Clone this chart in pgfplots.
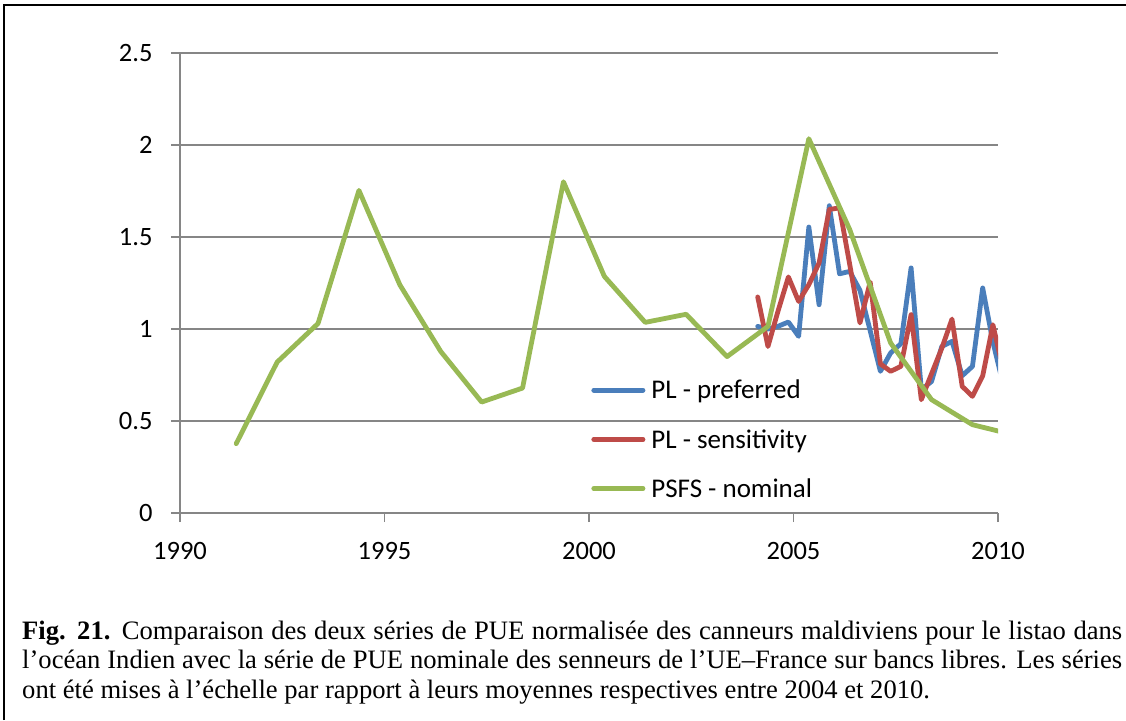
\documentclass[border=0pt]{standalone}
\usepackage{fontspec}
\setmainfont{Carlito}
\newfontfamily\capfont{Liberation Serif}
\usepackage{pgfplots}
\pgfplotsset{compat=1.18}
\definecolor{plblue}{RGB}{74,126,187}
\definecolor{plred}{RGB}{190,75,72}
\definecolor{plgreen}{RGB}{152,185,84}
\definecolor{gridgray}{RGB}{134,134,134}

\pgfplotstableread{
x y
1991.375 0.377
1992.375 0.820
1993.375 1.030
1994.375 1.753
1995.375 1.240
1996.375 0.878
1997.375 0.603
1998.375 0.679
1999.375 1.800
2000.375 1.286
2001.375 1.036
2002.375 1.080
2003.375 0.850
2004.375 1.014
2005.375 2.034
2006.375 1.540
2007.375 0.924
2008.375 0.616
2009.375 0.480
2010.375 0.425
}\green

\pgfplotstableread{
x y
2004.125 1.014
2004.375 1.000
2004.625 1.015
2004.875 1.038
2005.125 0.960
2005.375 1.554
2005.625 1.132
2005.875 1.670
2006.125 1.300
2006.375 1.313
2006.625 1.210
2006.875 0.990
2007.125 0.770
2007.375 0.870
2007.625 0.920
2007.875 1.332
2008.125 0.670
2008.375 0.715
2008.625 0.905
2008.875 0.933
2009.125 0.746
2009.375 0.797
2009.625 1.223
2009.875 0.930
2010.125 0.700
}\blue

\pgfplotstableread{
x y
2004.125 1.174
2004.375 0.905
2004.625 1.100
2004.875 1.283
2005.125 1.150
2005.375 1.241
2005.625 1.359
2005.875 1.650
2006.125 1.658
2006.375 1.350
2006.625 1.033
2006.875 1.255
2007.125 0.810
2007.375 0.770
2007.625 0.797
2007.875 1.078
2008.125 0.616
2008.375 0.757
2008.625 0.895
2008.875 1.054
2009.125 0.688
2009.375 0.634
2009.625 0.745
2009.875 1.023
2010.125 0.780
}\red

\begin{document}
\begin{tikzpicture}[x=1pt,y=1pt]
\path[use as bounding box] (0,0) rectangle (1126,720);
\fill[white] (0,0) rectangle (1126,720);
\draw[line width=2.5pt] (4,0) -- (4,715) -- (1126,715);
\begin{axis}[
  at={(180pt,207pt)}, anchor=south west,
  scale only axis, width=818pt, height=460pt,
  xmin=1990, xmax=2010, ymin=0, ymax=2.5,
  xtick={1990,1995,2000,2005,2010},
  ytick={0,0.5,1,1.5,2,2.5},
  axis x line*=bottom, axis y line*=left,
  axis line style={gridgray, line width=1.6pt, -},
  ymajorgrids, grid style={gridgray, line width=1.6pt},
  tick align=outside, major tick length=9pt,
  tick style={gridgray, line width=1.6pt},
  /pgf/number format/assume math mode=true,
  /pgf/number format/1000 sep={},
  ticklabel style={font=\fontsize{26.5}{31}\selectfont, text=black},
  yticklabel style={xshift=-15pt},
  xticklabel style={yshift=-17pt},
  legend style={draw=none, fill=none, font=\fontsize{27}{32}\selectfont,
    at={(axis cs:1999.98,0.745)}, anchor=north west,
    row sep=25pt, column sep=4pt,
    nodes={inner sep=2pt}},
  legend cell align=left,
  legend image code/.code={\draw[#1, line width=4.8pt, line cap=round] (2.4pt,0pt) -- (51.6pt,0pt);},
  line join=round,
]
\addplot[plblue, line width=4.8pt, line cap=round] table[x=x,y=y] {\blue};
\addlegendentry{PL - preferred}
\addplot[plred, line width=4.8pt, line cap=round] table[x=x,y=y] {\red};
\addlegendentry{PL - sensitivity}
\addplot[plgreen, line width=4.8pt, line cap=round] table[x=x,y=y] {\green};
\addlegendentry{PSFS - nominal}
\end{axis}
\node[anchor=north west, inner sep=0pt, text width=1100pt, align=justify,
  font=\capfont\fontsize{26.6}{29.3}\selectfont] at (22,99)
 {\textbf{Fig. 21.} Comparaison des deux séries de PUE normalisée des canneurs maldiviens pour le listao dans\linebreak
 l’océan Indien avec la série de PUE nominale des senneurs de l’UE–France sur bancs libres. Les séries\linebreak
 ont été mises à l’échelle par rapport à leurs moyennes respectives entre 2004 et 2010.};
\end{tikzpicture}
\end{document}
